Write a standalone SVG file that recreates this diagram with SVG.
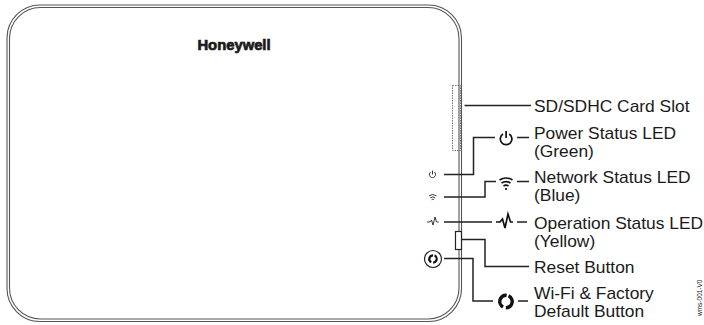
<svg xmlns="http://www.w3.org/2000/svg" width="704" height="325" viewBox="0 0 704 325">
<style>
text{font-family:"Liberation Sans",Arial,sans-serif;fill:#1a1a1a}
.l{font-size:16px}
.c{fill:none;stroke:#222;stroke-width:1.500}
.i{fill:none;stroke:#111;stroke-width:1.700}
.s{fill:none;stroke:#222;stroke-width:.9}
.b{fill:none;stroke:#555;stroke-width:1.100}
</style>
<rect width="704" height="325" fill="#fff"/>
<g id="device">
<rect x="7" y="5" width="454.500" height="316.500" rx="33" class="b"/>
<rect x="9.500" y="7.500" width="449.500" height="311.500" rx="31" class="b"/>
<text x="234" y="50" text-anchor="middle" font-size="14.800" font-weight="bold" stroke="#1a1a1a" stroke-width=".7">Honeywell</text>
</g>
<g id="sd-slot">
<rect x="452.500" y="85.500" width="8" height="65" fill="none" stroke="#555" stroke-width=".8" stroke-dasharray="1.500 1"/>
<text class="l" transform="translate(534 112) scale(1.0875 1)">SD/SDHC Card Slot</text>
</g>
<g id="power-led">
<g class="s"><path d="M430.700 172a3.100 3.100 0 1 0 3.600 0"/><path d="M432.500 170.500v4"/></g>
<g class="i"><path d="M503 134a5.800 5.800 0 1 0 6.200 0"/><path d="M506.100 131v7"/></g>
<text class="l" transform="translate(534 139) scale(1.0875 1)">Power Status LED</text>
<text class="l" transform="translate(534 157) scale(1.0875 1)">(Green)</text>
</g>
<g id="network-led">
<g class="s" stroke-width=".8"><path d="M429 195.800q3.700-2.600 7.500 0M430.300 197.800q2.400-1.700 4.900 0M431.700 199.700q1-.8 2.100 0"/></g>
<g class="i" stroke-width="1.300"><path d="M499.500 180q6.500-4 13 0M501.500 183q4.500-2.800 9 0M503.500 186q2.500-1.700 5 0"/><path d="M506 188v2"/></g>
<text class="l" transform="translate(534 183) scale(1.0875 1)">Network Status LED</text>
<text class="l" transform="translate(534 201) scale(1.0875 1)">(Blue)</text>
</g>
<g id="operation-led">
<path class="s" d="M427 222h3l1.500-2 1.500 5 2-8 1.500 5h2"/>
<path class="i" d="M496 222h4l2.500-3 2.500 9 3-14 2.500 8h2.500"/>
<text class="l" transform="translate(534 229) scale(1.0875 1)">Operation Status LED</text>
<text class="l" transform="translate(534 247) scale(1.0875 1)">(Yellow)</text>
</g>
<g id="reset-button">
<rect x="455.500" y="231.500" width="6" height="18" fill="#fff" stroke="#222" stroke-width="1.200"/>
<text class="l" transform="translate(534 273) scale(1.0875 1)">Reset Button</text>
</g>
<g id="wifi-button">
<circle cx="433" cy="259" r="8.500" fill="none" stroke="#222" stroke-width="1.200"/>
<circle cx="433" cy="259" r="3.700" fill="none" stroke="#111" stroke-width="2.200" stroke-dasharray="9.600 2" transform="rotate(-66 433 259)"/>
<circle cx="506" cy="301.500" r="6.200" fill="none" stroke="#111" stroke-width="3.400" stroke-dasharray="16.500 3" transform="rotate(-66 506 301.500)"/>
<text class="l" transform="translate(534 299) scale(1.0875 1)">Wi-Fi &amp; Factory</text>
<text class="l" transform="translate(534 317) scale(1.0875 1)">Default Button</text>
</g>
<g id="connectors">
<path class="c" d="M464.500 105.500H531"/>
<path class="c" d="M444 174.500H473.500V137.500H495M517 137.500H529"/>
<path class="c" d="M444 197H485V181.500H496M517 181.500H529"/>
<path class="c" d="M444 222H492M517 222H527"/>
<path class="c" d="M461 239.500H485V266.500H529"/>
<path class="c" d="M444 258.500H473V301H493M518 301H528"/>
</g>
<text x="702" y="316" font-size="6.500" fill="#666" transform="rotate(-90 702 316)">wms-001-V0</text>
</svg>
